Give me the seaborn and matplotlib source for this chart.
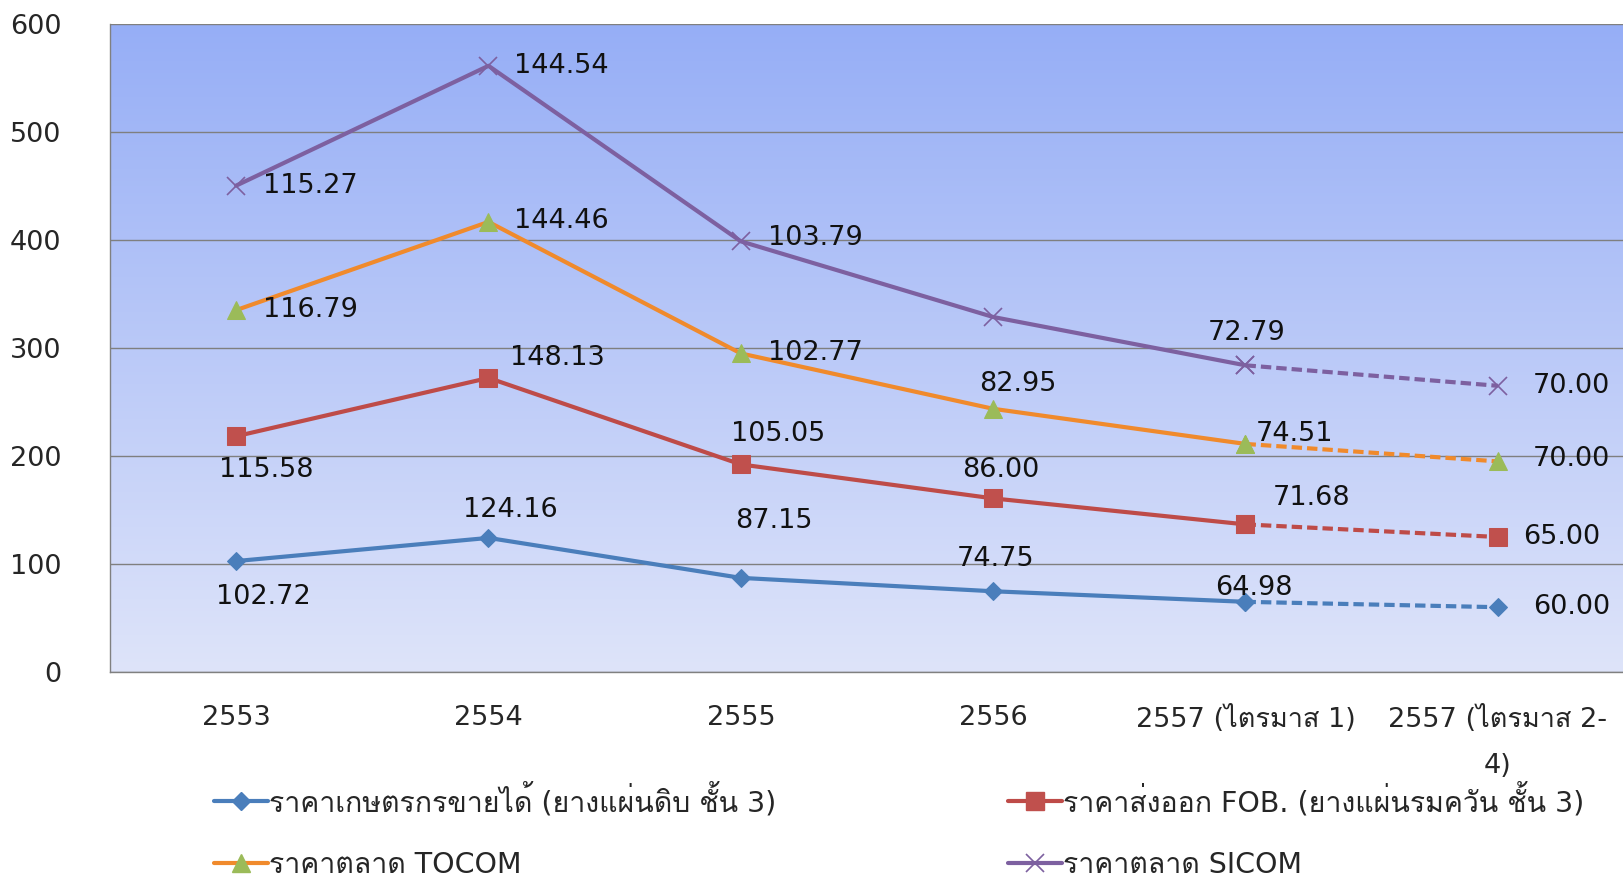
import numpy as np
import pandas as pd
import seaborn as sns
import matplotlib
matplotlib.use("Agg")
import matplotlib.pyplot as plt
from matplotlib import font_manager as fm
from matplotlib.ft2font import FT2Font
from matplotlib.lines import Line2D

# ---------------------------------------------------------------
# data (values are per layer, the chart stacks them)
# ---------------------------------------------------------------
years = ["2553", "2554", "2555", "2556", "2557 (ไตรมาส 1)", "2557 (ไตรมาส 2-\n4)"]
farm = [102.72, 124.16, 87.15, 74.75, 64.98, 60.00]
fob = [115.58, 148.13, 105.05, 86.00, 71.68, 65.00]
tocom = [116.79, 144.46, 102.77, 82.95, 74.51, 70.00]
sicom = [115.27, 144.54, 103.79, 85.00, 72.79, 70.00]
sicom_shown = [True, True, True, False, True, True]   # 2556 has no label in the original

names = ["ราคาเกษตรกรขายได้ (ยางแผ่นดิบ ชั้น 3)",
         "ราคาส่งออก FOB. (ยางแผ่นรมควัน ชั้น 3)",
         "ราคาตลาด TOCOM",
         "ราคาตลาด SICOM"]

# font that has thai glyphs (if any is installed)
thai_fam = None
for f in fm.fontManager.ttflist:
    try:
        if 0x0E23 in FT2Font(f.fname).get_charmap():
            thai_fam = f.name
            break
    except Exception:
        pass

sns.set_style("white")
fams = ["DejaVu Sans"] + ([thai_fam] if thai_fam else [])
plt.rcParams["font.family"] = fams

fig = plt.figure(figsize=(16.24, 8.83), dpi=100)
ax = fig.add_axes([110/1624, 1-672/883, 1-110/1624, (672-24)/883])

# gradient background
grad = np.linspace(0, 1, 256).reshape(-1, 1)
top = np.array([150, 174, 246]) / 255
bot = np.array([222, 228, 250]) / 255
img = top + (bot - top) * grad[:, :, None] * np.ones((1, 1, 3))
ax.imshow(img, extent=[-0.5, 5.5, 0, 600], aspect="auto", zorder=0, origin="upper")

stack = np.cumsum(np.array([farm, fob, tocom, sicom]), axis=0)
xs = np.arange(len(years))

styles = [
    dict(color="#4A7EBB", marker="D", markersize=9, mfc="#4A7EBB", mec="#4A7EBB", lw=3),
    dict(color="#BE4B48", marker="s", markersize=13, mfc="#C0504D", mec="#C0504D", lw=3),
    dict(color="#F08A2C", marker="^", markersize=13, mfc="#9BBB59", mec="#9BBB59", lw=3),
    dict(color="#7D60A0", marker="x", markersize=13, mfc="#7D60A0", mec="#7D60A0", lw=3, mew=1.2),
]

for i in range(4):
    st = styles[i]
    sns.lineplot(x=xs[:5], y=stack[i][:5], ax=ax, zorder=3, **st)
    sns.lineplot(x=xs[4:], y=stack[i][4:], ax=ax, zorder=3, linestyle=(0, (2.5, 1.2)), **st)

# label offsets (pixels) from each point
offs = [
    [(27, -36, "center"), (22, 28, "center"), (33, 57, "center"), (2, 32, "center"), (8, 14, "center"), (35, 0, "left")],
    [(30, -34, "center"), (69, 20, "center"), (37, 30, "center"), (8, 28, "center"), (66, 26, "center"), (25, 0, "left")],
    [(27, 0, "left"), (26, 1, "left"), (27, 0, "left"), (25, 25, "center"), (10, 10, "left"), (35, 2, "left")],
    [(27, 0, "left"), (26, 0, "left"), (27, 3, "left"), (0, 0, "left"), (1, 32, "center"), (35, 0, "left")],
]
vals = [farm, fob, tocom, sicom]
for i in range(4):
    for j in range(len(years)):
        if i == 3 and not sicom_shown[j]:
            continue
        dx, dy, ha = offs[i][j]
        ax.annotate(f"{vals[i][j]:.2f}", (xs[j], stack[i][j]), xytext=(dx, dy),
                    textcoords="offset pixels", ha=ha, va="center",
                    fontsize=19.5, color="#111111", zorder=5)

ax.set_xlim(-0.5, 5.5)
ax.set_ylim(0, 600)
ax.set_yticks(range(0, 601, 100))
ax.yaxis.grid(True, color="#7F7F7F", lw=1)
ax.set_axisbelow(False)
ax.set_xticks(xs)
ax.set_xticklabels(years, fontsize=19.5, ha="center", va="top")
lbl = ax.get_xticklabels()[-1]
lbl.set_multialignment("center")
lbl.set_linespacing(2.0)
ax.set_xticks(np.arange(-0.5, 6, 1), minor=True)
ax.tick_params(axis="x", which="major", length=0, pad=24)
ax.tick_params(axis="x", which="minor", length=11, color="#808080", width=1)
ax.tick_params(axis="y", length=13, color="#808080", width=1, pad=22, labelsize=19.5)
for s in ["top", "right"]:
    ax.spines[s].set_visible(False)
for s in ["left", "bottom"]:
    ax.spines[s].set_color("#808080")
    ax.spines[s].set_linewidth(1)
ax.set_xlabel("")
ax.set_ylabel("")
for gl in ax.get_ygridlines():
    gl.set_zorder(1)

def handle(st):
    return Line2D([], [], **st)

leg_kw = dict(loc="upper left", frameon=False, fontsize=20.5, handlelength=1.9,
              handletextpad=0.05, labelspacing=1.2)
leg1 = fig.legend([handle(styles[0]), handle(styles[2])], [names[0], names[2]],
                  bbox_to_anchor=(188/1624, 1-757/883), **leg_kw)
leg2 = fig.legend([handle(styles[1]), handle(styles[3])], [names[1], names[3]],
                  bbox_to_anchor=(982/1624, 1-757/883), **leg_kw)

fig.savefig("out.png", dpi=100)
